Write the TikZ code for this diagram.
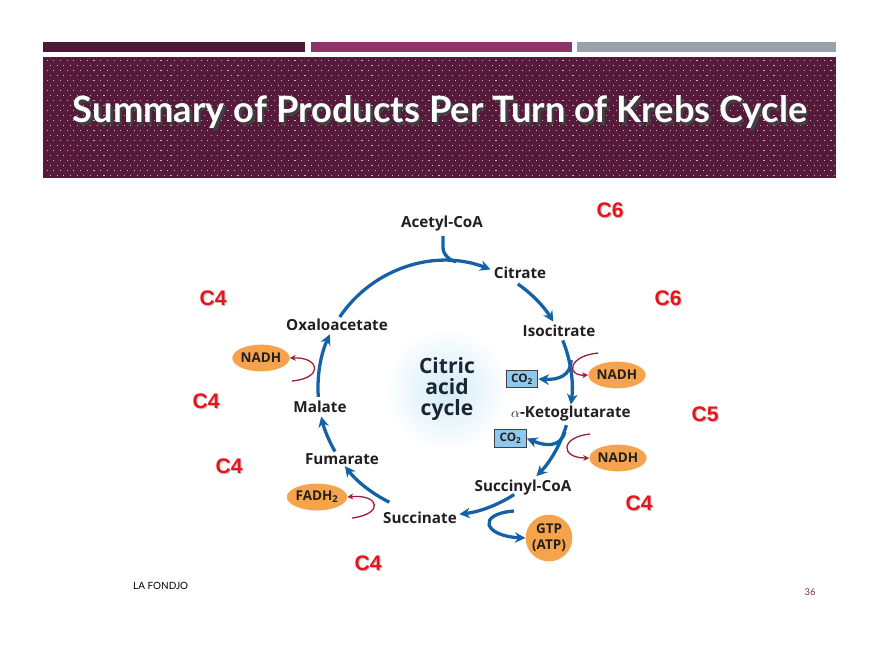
\documentclass[tikz,border=0pt]{standalone}
\usepackage{fontspec}
\setmainfont{Open Sans}
\newfontfamily\titlefont{Lato}
\newfontfamily\arialfont{Liberation Sans}
\usetikzlibrary{arrows.meta,shapes.geometric,calc}
\definecolor{bandc}{HTML}{561A3B}
\definecolor{barone}{HTML}{4E1733}
\definecolor{bartwo}{HTML}{8E3467}
\definecolor{barthree}{HTML}{9CA2AA}
\definecolor{cycblue}{HTML}{1561A6}
\definecolor{redarrow}{HTML}{9E1C36}
\definecolor{orangeel}{HTML}{F5A34C}
\definecolor{cotwofill}{HTML}{8EC8EC}
\definecolor{labtxt}{HTML}{231F20}
\definecolor{cred}{HTML}{E8141B}
\definecolor{glowc}{HTML}{D2ECF8}
\definecolor{pagenum}{HTML}{7B2C4E}
\definecolor{cyctxt}{HTML}{1E2532}
\begin{document}
\begin{tikzpicture}[x=0.03cm,y=-0.03cm,
  lab/.style={text=labtxt,font=\bfseries\fontsize{13}{15}\selectfont,inner sep=0pt},
  cyc/.style={draw=cycblue,line width=2.8pt,-{Stealth[length=9pt,width=9pt]}},
  redc/.style={draw=redarrow,line width=1.1pt,-{Stealth[length=5pt,width=5pt]}},
  prod/.style={ellipse,fill=orangeel,text=labtxt,inner sep=0pt,minimum width=1.5cm,minimum height=0.8cm,font=\bfseries\fontsize{11.5}{13}\selectfont},
  cotwo/.style={draw=black!75,line width=0.9pt,fill=cotwofill,inner sep=0pt,minimum width=0.95cm,minimum height=0.52cm,font=\bfseries\fontsize{10}{11}\selectfont,text=labtxt},
  cnum/.style={text=cred,font=\arialfont\bfseries\fontsize{18}{20}\selectfont,inner sep=0pt},
  cshadow/.style={text=black!25,font=\arialfont\bfseries\fontsize{18}{20}\selectfont,inner sep=0pt}
]
\useasboundingbox (0,0) rectangle (880,660);
\fill[white] (0,0) rectangle (880,660);
% header bars
\fill[barone] (43,42) rectangle (305,52);
\fill[bartwo] (311,42) rectangle (572,52);
\fill[barthree] (577,42) rectangle (836,52);
% title band
\fill[bandc] (43,57) rectangle (836,178);
\foreach \r in {0,...,23}{\foreach \c in {0,...,117}{%
  \fill[white!65!bandc] ({46.5+\c*6.7+3.35*mod(\r,2)},{59.5+\r*5}) rectangle ++(1.1,1.1);}}
\node[text=black!75,font=\titlefont\bfseries\fontsize{31}{34}\selectfont] (titleshadow) at (442.5,115) {Summary of Products Per Turn of Krebs Cycle};
\node[text=white,font=\titlefont\bfseries\fontsize{31}{34}\selectfont] (title) at (440,112) {Summary of Products Per Turn of Krebs Cycle};
% glow
\shade[inner color=glowc,outer color=white] (447,390) circle (62);
% cycle geometry
\coordinate (C) at (445,388);
\def\R{127}
% labels
\node[lab] (acetyl) at (442,224) {Acetyl-CoA};
\node[lab] (citrate) at (520,273) {Citrate};
\node[lab] (isocit) at (559,331) {Isocitrate};
\node[lab] (oxalo) at (337,325) {Oxaloacetate};
\node[lab] (malate) at (320,407) {Malate};
\node[lab] (fumarate) at (342,459) {Fumarate};
\node[lab] (succinate) at (420,518) {Succinate};
\node[lab] (succoa) at (523,488) {Succinyl-CoA};
\node[lab,anchor=west] (akg) at (511,414) {$\alpha$-Ketoglutarate};
\node[text=cyctxt,font=\bfseries\fontsize{18}{18}\selectfont,align=center,inner sep=0pt] (cac) at (447,389) {Citric\\acid\\cycle};
% cycle arcs
\path (C) ++(-184:\R) coordinate (a1);
\path (C) ++(-146:\R) coordinate (a2);
\path (C) ++(-55:\R) coordinate (a3);
\path (C) ++(-22:\R) coordinate (a4);
\path (C) ++(17:\R) coordinate (a5);
\path (C) ++(57:\R) coordinate (a6);
\path (C) ++(-244:\R) coordinate (a7);
\path (C) ++(-210:\R) coordinate (a8);
\path (C) ++(-85:\R) coordinate (join);
\draw[cyc] (a1) arc[start angle=-184,end angle=-155,radius=\R];
\draw[cyc] (a2) arc[start angle=-146,end angle=-69,radius=\R];
\draw[cyc] (a3) arc[start angle=-55,end angle=-31.5,radius=\R];
\draw[cyc] (a4) arc[start angle=-22,end angle=7.5,radius=\R];
\draw[cyc] (a5) arc[start angle=17,end angle=44,radius=\R];
\draw[cyc] (a6) arc[start angle=57,end angle=83.5,radius=\R];
\draw[cyc] (a7) arc[start angle=-244,end angle=-218,radius=\R];
\draw[cyc] (a8) arc[start angle=-210,end angle=-193,radius=\R];
% acetyl-CoA entry
\draw[draw=cycblue,line width=2.8pt] (acetyl.south) ++(1,4) coordinate (acin) -- ++(0,12) .. controls +(0,7) and +(-5,0) .. (join);
% CO2 boxes and branches
\node[cotwo] (co2a) at (522,379) {CO\textsubscript{2}};
\node[cotwo] (co2b) at (510.5,438.5) {CO\textsubscript{2}};
\coordinate (br1) at (571,360);
\coordinate (br2) at (565,432);
\draw[cyc] (br1) .. controls (571,376) and (558,380) .. (co2a.east);
\draw[cyc] (br2) .. controls (560,448) and (545,446) .. (co2b.east);
% NADH / FADH2
\node[prod] (nadh1) at (617,375) {NADH};
\node[prod] (nadh2) at (618,458) {NADH};
\node[prod] (nadhl) at (261,358) {NADH};
\node[prod,minimum width=1.6cm] (fadh) at (317,497) {FADH\textsubscript{2}};
\coordinate (r1) at (598,353);
\coordinate (r2) at (590,434);
\coordinate (r3) at (292,381);
\coordinate (r4) at (352,518);
\draw[redc] (r1) .. controls (568,356) and (566,376) .. (nadh1.west);
\draw[redc] (r2) .. controls (560,437) and (560,458) .. (nadh2.west);
\draw[redc] (r3) .. controls (324,378) and (320,357) .. (nadhl.east);
\draw[redc] (r4) .. controls (384,514) and (380,494) .. (fadh.east);
% GTP
\node[circle,fill=orangeel,minimum size=1.4cm,inner sep=0pt,align=center,text=labtxt,font=\bfseries\fontsize{11.5}{13.5}\selectfont] (gtp) at (549,538) {GTP\\(ATP)};
\coordinate (gbr) at (514,511);
\draw[cyc] (gbr) .. controls (476,514) and (484,536) .. (gtp.west);
% carbon numbers
\foreach \n/\x/\y/\t in {k1/610/210/C6,k2/213/298/C4,k3/668/298/C6,k4/206/401/C4,k5/705/414/C5,k6/229/466/C4,k7/639/503/C4,k8/368/563/C4}{
  \node[cshadow] at (\x+1.2,\y+1.2) {\t};
  \node[cnum] (\n) at (\x,\y) {\t};}
% footer
\node[font=\titlefont\fontsize{8.5}{10}\selectfont,text=black,anchor=west,inner sep=0pt] (author) at (133,586) {LA FONDJO};
\node[font=\titlefont\fontsize{8}{10}\selectfont,text=pagenum,inner sep=0pt] (pnum) at (810,592) {36};
\end{tikzpicture}
\end{document}
